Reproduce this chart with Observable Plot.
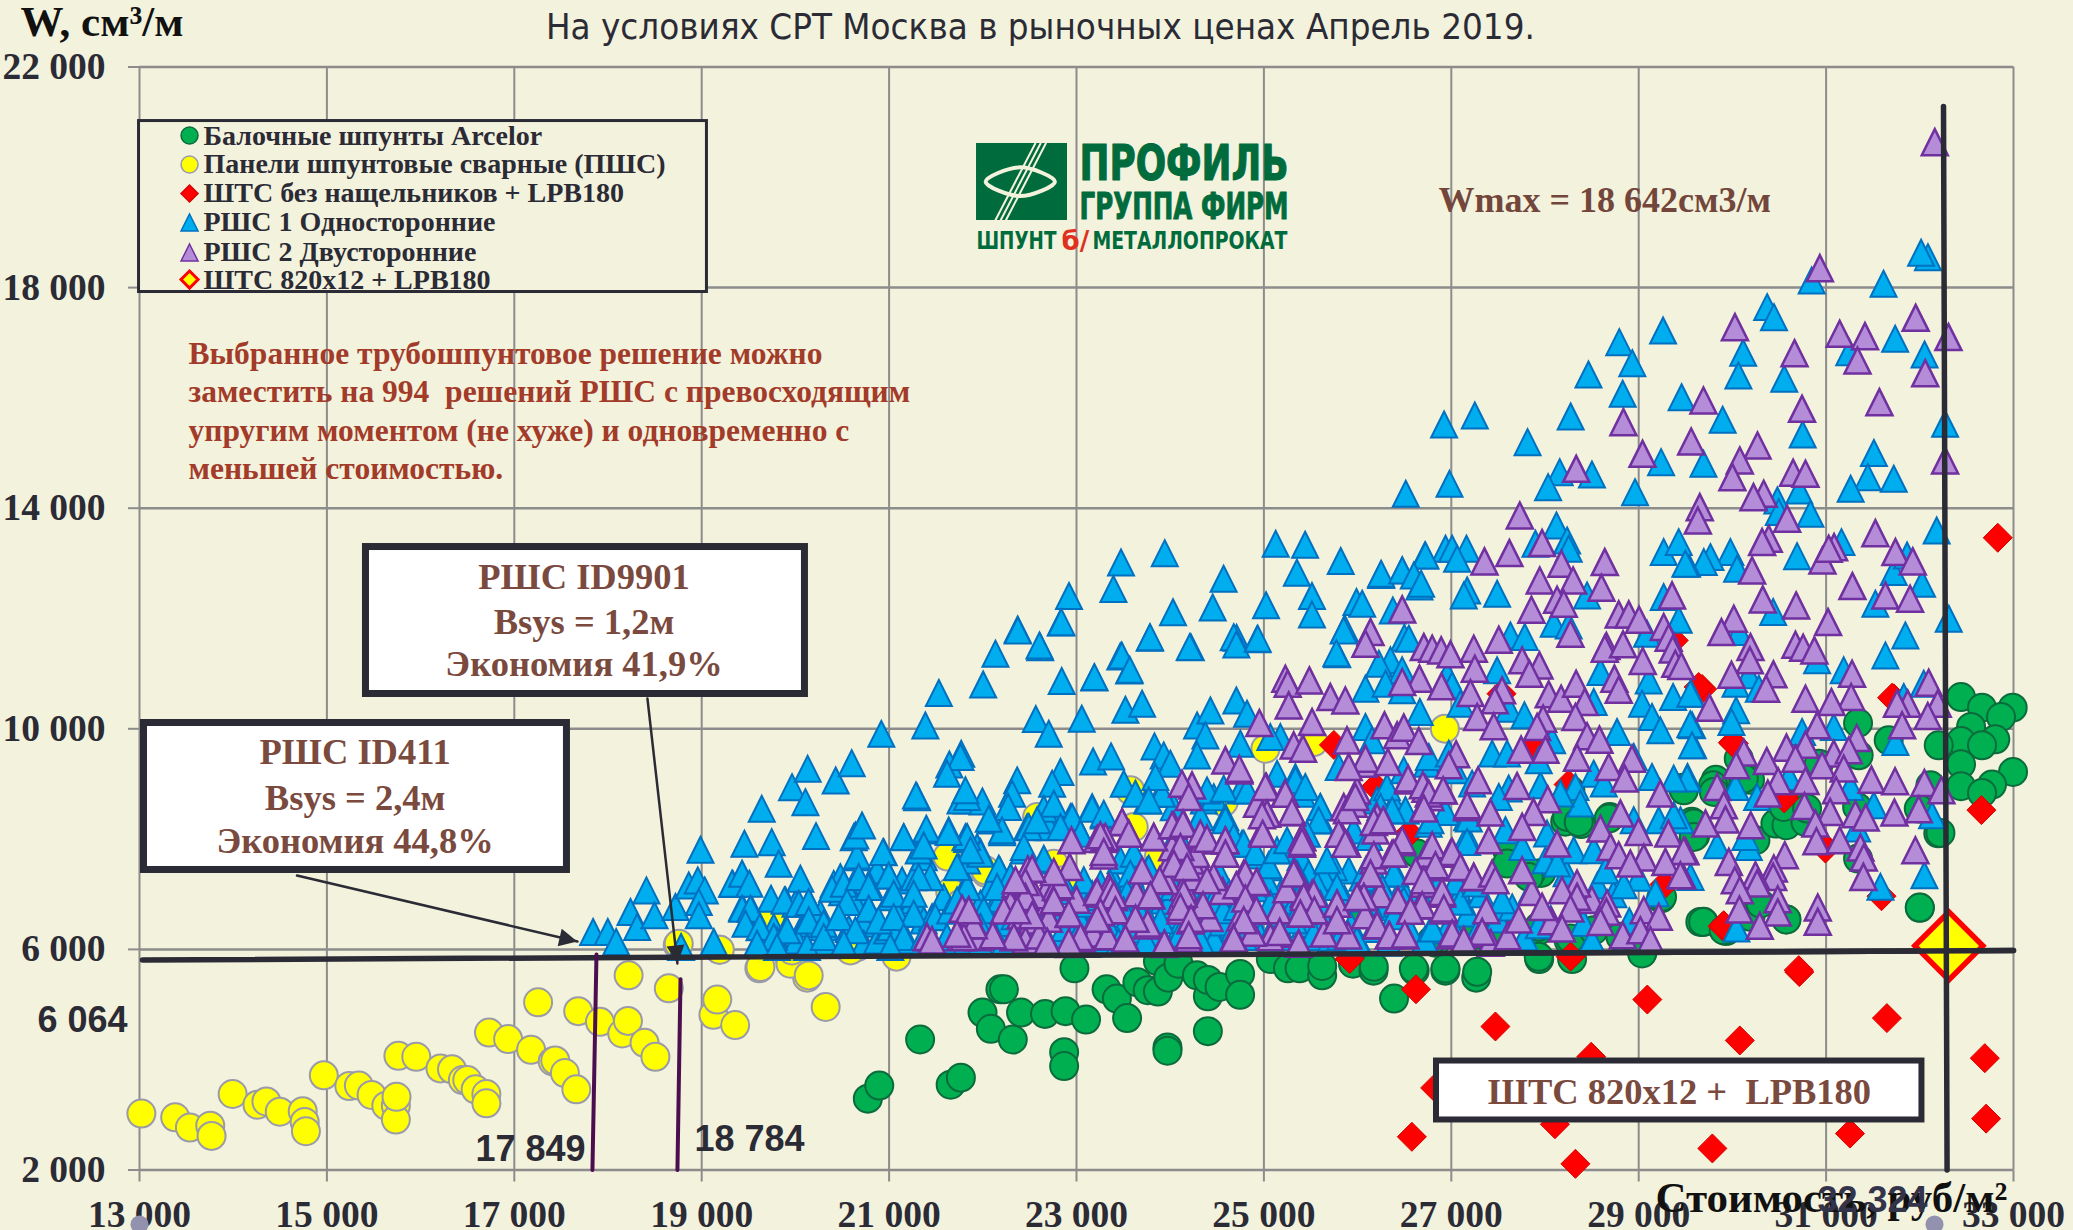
<!DOCTYPE html>
<html lang="ru"><head><meta charset="utf-8">
<script src="https://cdn.jsdelivr.net/npm/d3@7"></script>
<script src="https://cdn.jsdelivr.net/npm/@observablehq/plot@0.6"></script>
<style>html,body{margin:0;padding:0;background:#f3f2dc;overflow:hidden}</style></head><body><div id="chart"></div>
<script>
const xTicks=[13000,15000,17000,19000,21000,23000,25000,27000,29000,31000,33000];
const yTicks=[2000,6000,10000,14000,18000,22000];
const legendNames=["Балочные шпунты Arcelor","Панели шпунтовые сварные (ПШС)","ШТС без нащельников + LPB180","РШС 1 Односторонние","РШС 2 Двусторонние","ШТС 820х12 + LPB180"];
const selected=[[32310,6064]];
const green=[[20773,3294],[20895,3530],[21331,4366],[21657,3547],[21766,3674],[21997,4855],[22086,4560],[22188,5277],[22226,5277],[22320,4366],[22408,4855],[22664,4830],[22883,4880],[22868,4137],[22868,3885],[22978,5657],[23102,4728],[23321,5277],[23431,5108],[23540,4754],[23650,5404],[23760,5260],[23869,5235],[23971,4222],[23971,4163],[23869,5783],[23979,5488],[24088,5741],[24285,5530],[24402,4518],[24402,5150],[24402,5446],[24527,5319],[24746,5556],[24746,5176],[25074,5825],[25257,5657],[25381,5657],[25622,5530],[25622,5699],[25951,5741],[26170,5615],[26389,5108],[26609,5615],[26937,5615],[27266,5488],[27938,5825],[28289,5825],[29041,5952],
[28216,8315],[28384,8273],[28691,8400],[29567,8315],[29603,8062],[29239,6923],[29691,6500],[29932,6332],[30575,6543],[32000,6754],[32197,8104],[27960,7387],[27850,7387],[27595,7809],[27924,6332],[28252,6163],[27449,6205],[27156,6247],[26828,6121],[29823,9075],[30188,9075],[30663,8653],
[29473,8933],[29569,8221],[28680,8372],[28236,8402],[28360,8311],[28271,8885],[27827,7315],[27596,7556],[29249,6953],[29658,6499],[27400,6197],[27169,6197],[27933,6409],[28271,6197],[28520,6348],[28805,6228],[27933,5865],[29036,5926],[26600,5654],[26938,5654],[27276,5593],[26173,5684],[26796,6167],[26067,6650],[26635,7738],
[32440,10576],[32664,10383],[32991,10383],[32867,10214],[32547,10033],[32806,9809],[32440,9779],[32664,9701],[32202,9701],[32440,9356],[32995,9217],[32771,8988],[32440,8958],[32664,8837],[32113,8976],[31341,10105],[31668,9791],[31348,9519],[30922,9368],[30068,9459],[30122,9097],[29794,8976],[29802,8855],[29482,8885],[29588,8281],[29588,8040],[30246,7979],[30459,8281],[30577,8251],[30780,8311],[30548,8583],[30797,8553],[31331,8583],[31989,8553],[32220,8112],[31341,7647],[29688,6499],[29908,6348],[30577,6542],[30193,6590],[30299,6832],[32000,6759]];
const yellow=[[13020,3024],[13381,2956],[13538,2770],[13755,2804],[13769,2618],[13994,3378],[14259,3184],[14354,3243],[14497,3057],[14742,3066],[14763,2872],[14776,2703],[14967,3716],[15239,3522],[15341,3530],[15477,3361],[15634,3167],[15736,3167],[15736,2914],[15743,3327],[15763,4070],[15954,4053],[16212,3842],[16335,3825],[16451,3631],[16498,3631],[16587,3462],[16702,3378],[16702,3209],[16730,4492],[16934,4374],[17179,4180],[17254,5041],[17410,3969],[17437,3986],[17540,3758],[17662,3462],[17682,4880],[17914,4686],[18152,4475],[18213,4703],[18220,5530],[18390,4306],[18506,4053],[18649,5294],[18744,6079],[19125,4813],[19166,5091],[19357,4627],[19187,5994],[19615,5657],[19942,5826],[20126,5488],[20323,4956],[21079,5868],[21623,7683],[22032,7387],
[18755,6103],[19193,5994],[19627,5680],[19947,5741],[20142,5529],[21653,7040],[19733,6586],[20658,6043],[20587,5982],[19965,5980],
[25016,9639],[25531,9759],[22580,8400],[23575,8884],[23611,8219],[24571,8672],[22029,7434],[22758,7555],[22864,7253],[23878,7675],[21762,6830],[26931,10003]];
const red=[[32832,13464],[32657,8526],[31722,10552],[29677,10721],[27536,10636],[25747,9708],[30005,9750],[28252,8990],[26192,8948],[26550,8105],[27865,9708],[30553,8737],[30992,7851],[29275,7176],[31591,6965],[27580,6543],[29896,6417],[25915,5825],[28274,5868],[26623,5277],[29092,5091],[30714,5589],[27471,4602],[30079,4349],[31649,4754],[32694,4028],[32708,2931],[31255,2660],[29786,2391],[28325,2112],[26579,2602],[28493,4053],[28106,2830],[26828,3488],[29374,11603],[29640,10758],[30015,9731],[31704,10564],[30548,8795],[29908,6439],[30993,7828],[30708,5624]];
const blue=[
[32087,18552],[32014,18631],[30846,18129],[31613,18069],[30371,17646],[30444,17464],[29260,17223],[28793,17011],[28932,16630],[30115,16817],[28464,16425],[30064,16407],[30553,16346],[31247,16830],[31737,17072],[32051,16787],[28829,16074],[29458,16013],[28274,15663],[27251,15681],[26923,15518],[27814,15198],[29896,15603],[30750,15337],[32270,15530],[31510,15000],[31722,14533],[31445,14563],[29239,14835],[29691,14805],[28157,14654],[28033,14382],[28501,14611],[26981,14442],[26514,14261],[28961,14291],[31262,14352],[30714,14321],[30480,14140],
[23475,13016],[23942,13185],[22920,12409],[23394,12535],[22372,11801],[22832,11928],[22613,11480],[24570,12721],[25126,13354],[25440,13337],[25820,13042],[25352,12831],[24030,12113],[24454,12198],[23782,11649],[24220,11480],[25023,12240],[24709,11649],[24928,11624],[23467,11312],[23562,11058],[23190,10932],[25783,11354],[25513,12409],[25513,12071],[26251,12789],[26477,12873],[26718,13143],[26660,12578],[25988,12299],[25863,11818],[26499,11649],[21531,10650],[21770,9546],[21643,9353],[21996,8683],[22842,10868],
[32180,13596],[31164,13385],[30690,13131],[30833,13898],[30495,13929],[29979,13204],[29766,13113],[29695,13023],[29517,12992],[30050,12902],[31722,12841],[31864,13143],[32024,12630],[31526,12268],[32309,11996],[30435,12117],[31846,11694],[31633,11331],[30904,11241],[31188,11060],[30068,11754],[30175,10969],[30033,10818],[30282,10727],[29560,10637],[30040,10335],[29990,10123],[29570,10063],[29581,9701],[31829,10576],[32042,10818],[31740,9761],[31082,10033],[30744,9942],[29521,9127],[30033,8946],[30264,8764],[30602,9127],[31260,8946],[31509,8613],[32131,8432],[31331,8191],[29837,7889],[30175,7858],[30139,8040],[29553,7315],[31580,7134],[32049,7345],[30043,6379],[29446,8342],
[28122,13687],[27898,13355],[28236,13415],[28253,13264],[26938,13264],[27009,13264],[27162,13264],[27062,13083],[26724,13143],[26251,12811],[26476,12872],[26600,12781],[26678,12630],[27169,12509],[27133,12419],[27489,12449],[28449,12419],[29267,13204],[29427,13385],[29498,12992],[26049,12268],[26376,12147],[29427,11978],[29267,12388],[28093,11905],[28253,11875],[26547,11633],[27631,11694],[27784,11664],[29089,11724],[28591,11029],[29107,10878],[29036,10456],[29367,10576],[29551,10637],[29142,10214],[29551,10081],[29569,9701],[29231,9972],[28769,9942],[26351,11241],[26227,11180],[26476,11060],[26084,10727],[26298,10818],[26476,10697],[26956,10969],[27009,10788],[27489,11060],[27098,10456],[27613,10365],[27781,10244],[26664,10305],[28520,10486],[26084,10033],[26155,9791],[27951,8976],[28076,9791],[27436,9550],[27595,9550],[27933,9429],[26760,9489],[26973,9550],[27045,9248],[26493,9248],[28520,9187],[28627,9006],[28947,9489],[29142,9127],[28325,8946],[28378,8644],[28165,8825],[27222,9006],[27613,8916],[27507,8764],[26511,8523],[26938,8493],[26244,8583],[26369,8523],[26778,8342],[27187,8372],[27169,7949],[27578,8160],[28022,8100],[27756,7858],[28307,7798],[28520,7798],[28005,7617],[28129,7556],[28645,7436],[28840,7164],[28947,8342],[29214,8342],[29374,8432],[29516,9097],[29374,9097],[26387,7375],[26635,7436],[26262,7103],[26493,6892],[27098,6862],[27542,6892],[26796,6379],[27933,6439],[28396,6892],[27258,7194],
[22374,11783],[22839,11934],[22135,11360],[22605,11511],[22004,10804],[22566,10176],[22704,9910],[23056,10182],[23191,10937],[23483,11330],[23568,11070],[23785,11662],[24208,11481],[24678,11662],[24706,11529],[24934,11632],[25851,11783],[25773,11372],[23522,10345],[23700,10454],[21762,9488],[23177,9409],[23369,9500],[23832,9681],[23931,9518],[24002,9367],[24287,10061],[24429,10333],[24376,9880],[24287,9518],[24706,10514],[24820,10273],[24749,9729],[25176,9850],[25069,9850],[22829,9216],[22740,9004],[22367,9065],[22313,8823],[22270,8582],[22206,8159],[22064,8370],[21833,8763],[21815,8884],[23504,9004],[23629,8823],[22651,8551],[22758,8642],[22491,8219],[22580,8340],[22953,8400],[22829,8219],[23167,8551],[23291,8461],[22438,7857],[21975,7736],[21833,8038],[21869,7796],[22651,7645],[22171,7464],[21833,7132],[22295,7313],[23042,8098],[23469,7615],[23611,7736],[23771,7464],[23575,7374],[23913,8823],[23842,9125],[23771,8702],[24073,8098],[24393,8883],[24571,8914],[24820,8883],[24589,8340],[24322,8400],[24678,8038],[24785,7917],[24909,7766],[25051,7525],[25140,7796],[25336,9065],[25442,8944],[25602,8582],[25585,8340],[25798,9306],[26087,7434],[26122,8038],[25247,7977],[25460,8098],[25673,7615],[25354,7374],[25425,7132],
[22011,6709],[22153,7132],[23078,7253],[23184,6951],[23362,7192],[23540,7011],[23504,6709],[23682,6649],[23896,6528],[24038,7132],[24464,6890],[24571,6709],[24713,6770],[24820,6407],[25069,6830],[25176,6649],[25318,6528],[25531,6286],[25815,6226],[25993,6166],[24785,6226],[24322,6166],[24109,6286],[23736,6166],[23255,6226],[23006,6226],[22651,6286],[22367,6226],[22118,6286],[21869,6226],[21975,6407],[22509,6649],[25602,6830],[25780,7132],[26087,6649],
[17841,6315],[17998,6315],[18087,6133],[18240,6677],[18311,6405],[18410,7070],[18496,6617],[18720,6768],[18780,6043],[18987,7806],[18862,7160],[18958,7251],[19033,7070],[18969,6858],[18969,6617],[19129,6133],[19324,7190],[19431,7372],[19509,7190],[19456,7915],[19747,7945],[19822,7553],[19641,8549],[19964,8942],[20131,9274],[20107,8670],[20430,9063],[20601,9377],[20917,9908],[21387,10059],[20220,8054],[21287,8791],[21618,9184],[19431,6737],[19520,6737],[19467,6466],[19619,6405],[19740,6919],[20053,7281],[19883,6888],[20036,6828],[20142,6858],[19769,6224],[19911,6345],[20142,6526],[20302,6466],[19591,6103],[19804,6043],[20124,6043],[20302,6224],[20391,7100],[20516,7190],[20658,7704],[20640,8066],[20711,8247],[20935,7764],[20676,7311],[20782,7130],[20996,7341],[20551,6858],[20782,6737],[20462,6586],[20640,6345],[20889,6526],[20516,6103],[21156,8036],[21397,8187],[21369,7885],[21636,8127],[21440,7311],[21316,7311],[21049,7009],[21262,7009],[21262,6647],[21049,6586],[21493,6586],[21653,6707],[21156,6224],[21013,6043],[21369,6224],[21618,6224],[21725,7492],[21725,6888]];
const blueLower=[[19332,7188],[19431,7358],[19431,6765],[19538,6705],[19620,6403],[19894,6886],[20000,6826],[20143,6856],[19769,6403],[19894,6342],[20089,6463],[20160,6644],[20303,6403],[20267,6644],[20409,7188],[20480,7309],[20498,7037],[20641,7249],[20658,7672],[20623,8035],[20943,7763],[20872,7430],[20996,7340],[20783,7188],[20676,6947],[20623,6886],[20463,6584],[20783,6735],[20872,6493],[20730,6463],[20570,6372],[20303,6100],[19805,6161],[20018,6161],[19591,6100],[20516,6100],[20730,6100],[20872,6161],[21049,6100],[20978,6342],[21014,6947],[21139,7249],[21263,7309],[21441,7309],[21263,6886],[21263,6644],[21085,6644],[21014,6403],[21370,6523],[21459,6584],[21654,6705],[21814,7128],[21743,7491],[21583,6947],[21832,7611],[21370,7672],[21316,7793],[21156,8035],[21398,8155],[21636,8155],[21832,8004],[21939,7853],[21299,8760],[21832,8699],[21192,6161],[21619,6161],[21832,6161],
[21762,8699],[22082,8337],[22207,8125],[21975,7763],[21815,8035],[21886,7793],[21833,7128],[22182,7430],[22296,7309],[22082,7128],[21975,6826],[22135,6826],[22011,6524],[21869,6584],[21975,6100],[22224,6100],[22509,6100],[22794,6100],[23114,6100],[23291,6161],[23452,6644],[23398,7249],[23558,7249],[23754,7430],[23576,7611],[23167,7007],[23078,7068],[23256,7188],[23185,6644],[23078,6463],[23256,6161],[23469,6282],[23612,6886],[24038,6161],[23790,6161],[23754,6524],[24430,6403],[24430,6765],[23932,6886],[22438,7793],[22651,7611],[22473,8216],[22758,8337],[22705,8216],[22936,8397],[23007,8216],[23167,8579],[23291,8427],[23754,8699],[23896,8820],[24038,8579],[24359,8699],[24465,8760],
[25141,9183],[25336,9123],[25407,8821],[25603,8579],[24749,8881],[24589,8398],[24767,7914],[24909,7703],[25052,7491],[25247,7793],[25390,7672],[25479,7370],[25603,8337],[25959,8156],[25906,7430],[25745,7491],[25639,7310],[25176,7007],[25070,6766],[24643,6886],[24892,6403],[25532,6222],[26012,6131],[25888,6161],[26243,7189],[26403,7370],[26510,8518],[26759,8277],[26386,8639],[26208,8700],[26314,8941],[26741,9365],[27168,8035],[27168,8397],[27097,7007],[26777,6343],[26279,6766],[26421,6826],
[22080,6540],[22230,6480],[22190,6920],[22340,6600],[22420,6380],[22560,6820],[22610,6440],[22680,7010],[22790,6610],[22870,6390],[22900,7060],[22980,6780],[23040,6520],[23130,6830],[23320,6470],[23450,6130],[23490,6960],[23600,6360],[23660,7060],[23720,6700],[23850,6300],[23870,7110],[23990,6620],[24000,6880],[24120,6450],[24180,7240],[24250,6940],[24300,6620],[24410,7090],[24470,6180],[24520,7380],[24560,6490],[24630,7020],[24690,6390],[24750,6950],[24850,6640],[24900,7110],[24960,6240],[25030,7240],[25120,6470],[25220,6220],[25260,7170],[25340,6880],[25440,6460],[25500,6810],[25570,7160],[25650,6500],[25720,6210],[25860,6920],[25930,6430],[26050,7300],[26130,6800],[26170,6370],[26230,7060],[26330,6120],[26390,6600],[26470,7120],[26560,6330],[26650,7040],[26720,6180],
[26860,7170],[26990,6480],[27050,7230],[27180,6650],[27280,6330],[27320,7000],[27500,6540],[27650,6760],[27780,6220],[27850,7050],[28060,6550],[28230,7380],[28410,6480],[28500,6160],[28560,7160],[28730,7000],[28900,6510],[29000,7300],[29180,7020]];
const purple=[
[32160,20637],[30933,18353],[30027,17283],[31956,17452],[31145,17162],[31415,17120],[32306,17102],[30663,16811],[31335,16678],[32058,16449],[30743,15802],[31569,15923],[29691,15953],[28837,15560],[29560,15210],[29041,14986],[30268,15137],[30079,14865],[28333,14714],[30000,14563],[30648,14642],[30780,14624],[32270,14865],[30334,14261],[30225,14200],
[31526,13548],[31740,13204],[31925,13035],[31281,12588],[31633,12419],[31896,12358],[31085,13294],[30961,13053],[31028,13264],[30388,13445],[30317,13385],[30584,13808],[29652,14019],[29631,13778],[30210,12872],[30324,12346],[30680,12237],[30015,11996],[29883,11754],[31021,11935],[30673,11525],[30755,11470],[30875,11422],[30193,11482],[30186,11241],[29990,10981],[30438,10987],[30360,10727],[31277,10999],[31267,10576],[30780,10546],[31057,10486],[29755,10383],[32095,10836],[31871,10456],[31757,10456],[32191,10456],[32085,10232],[31811,10063],[30904,10063],[31327,9834],[30780,9713],[30577,9658],[31082,9550],[31242,9610],[30673,9459],[30957,9338],[31188,9278],[30122,9568],[30040,9338],[30367,9417],[30488,9048],[30780,9054],[30378,8825],[31107,8885],[31484,9078],[31736,9048],[32049,9018],[32230,8885],[29837,8946],[29908,8613],[29926,8354],[29713,8281],[30196,8251],[30769,8601],[31043,8493],[31313,8450],[31423,8390],[31729,8481],[31989,8541],[30886,8281],[30897,7961],[31146,7979],[31953,7798],[31366,7846],[31402,7665],[31398,7315],[30559,7708],[30442,7466],[30435,7315],[29962,7587],[30246,7345],[30264,7194],[30026,7254],[30079,7073],[30484,6910],[30484,6669],[30075,6723],[30292,6427],[30911,6759],[30911,6500],[29499,7780],[29464,7345],
[27731,13868],[27969,13367],[27620,13186],[27354,13035],[28175,12992],[28638,13023],[27944,12690],[28300,12690],[28602,12558],[29356,12419],[28129,12340],[28200,12268],[27855,12159],[26476,12165],[28787,12074],[28894,12074],[29004,11978],[28271,11724],[29267,11845],[29320,11652],[26138,11754],[26084,11543],[26707,11482],[26796,11452],[26892,11422],[26991,11350],[27240,11452],[27507,11615],[28655,11500],[28638,11452],[28833,11531],[29363,11440],[27756,11241],[27941,11150],[29043,11229],[29391,11180],[29455,11138],[27251,11090],[26660,10909],[26476,10848],[26895,10770],[27834,10999],[28741,10909],[28787,10709],[27542,10697],[27204,10649],[27464,10516],[28040,10625],[28172,10546],[28332,10818],[28424,10486],[28325,10214],[27276,10214],[27453,10045],[27980,10184],[27916,10033],[26287,10063],[26422,9882],[26493,10021],[26653,9779],[26084,9459],[26323,9399],[27052,9538],[26973,9338],[27745,9622],[28005,9622],[28449,9864],[28581,9803],[28342,9477],[28680,9308],[28929,9459],[28851,9097],[26539,9097],[26696,8976],[26760,8825],[26913,8885],[27286,9066],[27702,8964],[28029,8722],[27169,8613],[27418,8481],[26707,8553],[26173,8311],[26273,8342],[27877,8493],[27756,8221],[28592,8191],[28805,8462],[28998,8130],[29231,8825],[29317,8100],[29480,7786],[27400,7979],[28129,7919],[26476,7979],[26173,7708],[26387,7738],[26796,7889],[28698,7858],[28787,7708],[29054,7665],[28911,7556],[29285,7587],[29445,7345],[27009,7768],[26831,7526],[27098,7496],[27240,7315],[27436,7375],[27471,7254],[27756,7435],[26707,7254],[26138,7375],[26902,7043],[26689,6801],[26920,6741],[26067,6953],[26564,6699],[28342,7194],[28182,7073],[28342,6953],[28271,6741],[28663,6832],[28655,6681],[28592,6499],[27375,6711],[27329,6318],[27720,6542],[27969,6771],[28182,6379],[28830,6258],[29054,6711],[29214,6590],[29018,6348],[29125,6167],[26209,6439],[26340,6258],[26504,6270],[27009,6288],[27133,6167],
[25229,10907],[25254,10816],[25485,10877],[25265,10424],[25709,10575],[25869,10514],[25514,10122],[24952,10104],[25887,9790],[25318,9699],[25418,9639],[24589,9427],[24738,9276],[25905,9306],[25016,8944],[25229,8823],[24233,8974],[24126,9004],[24198,8763],[25033,8461],[24980,8431],[25300,8491],[24987,8098],[25407,8038],[25407,7947],[25887,8521],[25976,8763],[25798,8098],[25869,7917],[23487,8310],[23558,8098],[23309,8038],[23255,8068],[23291,7766],[23824,8038],[24020,8250],[24137,8280],[24322,8098],[24393,8008],[24589,7977],[24109,7857],[24589,7736],[24038,7555],[24180,7494],[24464,7313],[24393,7253],[22946,7977],[22928,7494],[22829,7162],[22758,7404],[22527,7464],[22455,7223],[22455,6951],[22349,7253],[22758,6890],[23220,7042],[23362,7072],[23398,6981],[23415,6709],[23255,6679],[23220,6558],[23888,7253],[23789,6981],[25318,7374],[24802,7374],[24920,7223],[24706,7162],[24802,6921],[25531,7011],[25425,6951],[25539,6709],[25389,6649],[25780,6830],[25780,6528],[25993,6951],[24351,6800],[24144,7011],[24109,6770],[24223,6558],[24198,6256],[24920,6709],[24785,6528],[24678,6196],[25169,6317],[25371,6105],[23938,6105],[23760,6468],[23629,6558],[23522,6196],[22918,6649],[23042,6226],[22918,6135],[22687,6135],[22527,6619],[22367,6709],[22331,6226],[22107,6256],[21904,6437],[21851,6709],[21798,6226],
[21405,6224],[21458,6163],[21725,6284]];
const purpleLower=[[21405,6221],[21459,6161],[21761,6312],[21850,6705],[21903,6463],[21957,6221],
[22349,7188],[22455,7067],[22455,6886],[22296,6826],[22224,6705],[22402,6614],[22527,6524],[22705,6856],[22705,6554],[22918,6644],[23060,6191],[22687,6131],[22918,6100],[22456,6161],[22331,6221],[22598,6251],[22110,6251],[21904,6433],[21833,6644],[21780,6735],[21815,6524],[21762,6221],[23202,7007],[23345,7128],[23398,6947],[23416,6705],[23256,6675],[23220,6584],[23523,6191],[23630,6554],[23761,6433],[23800,6977],[23896,7249],[23939,6100],[24198,6191],[24216,6524],[24109,6705],[24109,6886],[24145,7128],[24348,6795],[24252,7309],[24056,7551],[23967,7491],[24021,7853],[24145,8276],[24038,8246],[23220,8004],[23291,8004],[23291,7702],[23558,8095],[23487,8306],[23825,8035],[24394,7974],[24323,8035],[24465,7279],[24323,7491],[24216,7611],[22438,7249],[22705,7158],
[24739,9244],[25027,8942],[25034,8458],[24981,8126],[24927,8639],[25222,8821],[25301,8488],[25407,8035],[25407,7914],[24589,7733],[24589,7974],[25326,7400],[24927,7219],[24785,7370],[24714,7128],[24821,6947],[24909,6705],[24749,6584],[24678,6222],[25176,6282],[25070,6222],[25372,6101],[25425,7007],[25514,7007],[25532,6705],[25390,6645],[25781,6826],[25781,6524],[26048,6947],[25888,7914],[25817,8095],[25852,8579],[25959,8639],[25994,8881],[26065,9365],[26208,8398],[26279,8337],[26190,8156],[26172,7612],[26137,7370],[26475,7944],[26368,7733],[26539,9062],[26724,8911],[26777,8760],[26706,8579],[26919,8881],[27168,8579],[26795,7854],[26741,7733],[26830,7491],[26990,7733],[27097,7491],[27239,7310],[26706,7189],[26901,7007],[26919,6705],[26670,6796],[26564,6705],[26201,6433],[26332,6252],[26510,6252],[26990,6252],[27133,6161],[27310,6282],
[22480,7450],[22560,6980],[22780,7130],[23000,6900],[23180,6290],[23330,6240],[23640,7020],[23700,7430],[23960,7240],[24280,7730],[24420,6570],[24560,7060],[24880,6300],[25150,6710],[25240,7090],[25640,6290],[25900,6250],[26080,6620],[26240,7000],[26430,6890],[26620,7420],[27420,6120],[27600,6240],[27860,7040],[28070,6510],[28500,6900]];

const fmt=d=>String(d).replace(/\B(?=(\d{3})+$)/," ");
const pr=a=>a.map(([x,y])=>({x,y}));
const tri={draw(c,s){const r=Math.sqrt(s/Math.PI);c.moveTo(0,-r);c.lineTo(r,r);c.lineTo(-r,r);c.closePath();}};
const dia={draw(c,s){const r=Math.sqrt(s/Math.PI);c.moveTo(0,-r);c.lineTo(r,0);c.lineTo(0,r);c.lineTo(-r,0);c.closePath();}};
const SERIF="Liberation Serif",SANS="Liberation Sans",COND="DejaVu Sans",INK="#2b2b36",BROWN="#7a4a3e",BRICK="#a23b2a",BG="#f3f2dc";
const styles={
 g:{fill:"#00b050",stroke:"#0b6b3c",strokeWidth:2,symbol:"circle"},
 y:{fill:"#ffff00",stroke:"#9a9aa8",strokeWidth:2,symbol:"circle"},
 r:{fill:"#ff0000",stroke:"#d80000",strokeWidth:1,symbol:dia},
 b:{fill:"#00adef",stroke:"#0070c0",strokeWidth:2,symbol:tri},
 p:{fill:"#b48cd8",stroke:"#7030a0",strokeWidth:2.5,symbol:tri},
 s:{fill:"#ffff00",stroke:"#ff0000",strokeWidth:5.5,symbol:dia}};
const T=(s,x,y,o)=>Plot.text([s],{x:()=>x,y:()=>y,text:d=>d,textAnchor:"start",lineAnchor:"middle",fontFamily:SERIF,fontWeight:"bold",fontSize:36.5,...o});
const L=(pts,o)=>Plot.line(pr(pts),{x:"x",y:"y",...o});
const box=(x1,x2,y1,y2,o)=>Plot.rect([0],{x1:()=>x1,x2:()=>x2,y1:()=>y1,y2:()=>y2,fill:"white",stroke:INK,strokeWidth:7,...o});
const head=(x,y,rotate)=>Plot.dot([0],{x:()=>x,y:()=>y,r:9,symbol:tri,rotate,fill:INK});
const legendY=[20757,20232,19706,19180,18636,18146];
const legendStyle=[styles.g,styles.y,styles.r,styles.b,styles.p,styles.s];

const chart=Plot.plot({
 width:2073,height:1230,marginLeft:139,marginRight:60,marginTop:66.5,marginBottom:60.5,
 x:{domain:[13000,33000],range:[139,2013]},y:{domain:[2000,22000],range:[1169.5,66.5]},
 style:{background:BG,overflow:"visible"},
 marks:[
  Plot.ruleX(xTicks,{stroke:"#8c8c8c",strokeWidth:2}),
  Plot.ruleY(yTicks,{stroke:"#8c8c8c",strokeWidth:2.5}),
  Plot.axisX({ticks:xTicks,tickSize:12,tickPadding:18,tickFormat:fmt,label:null,fontSize:37.5,fontFamily:SERIF,fontWeight:"bold",color:INK,stroke:"#8c8c8c",strokeWidth:2}),
  Plot.axisY({ticks:yTicks,tickSize:11,tickPadding:23,tickFormat:fmt,label:null,fontSize:37.5,fontFamily:SERIF,fontWeight:"bold",color:INK,stroke:"#8c8c8c",strokeWidth:2}),
  Plot.dot(pr(green),{x:"x",y:"y",r:14,...styles.g}),
  Plot.dot(pr(yellow),{x:"x",y:"y",r:14,...styles.y}),
  Plot.dot(pr(red),{x:"x",y:"y",r:14.5,...styles.r}),
  Plot.dot(pr(blueLower),{x:"x",y:"y",r:13,...styles.b}),
  Plot.dot(pr(blue),{x:"x",y:"y",r:13,...styles.b}),
  Plot.dot(pr(purpleLower),{x:"x",y:"y",r:13,...styles.p}),
  Plot.dot(pr(purple),{x:"x",y:"y",r:13,...styles.p}),
  L([[13032,5808],[33000,5981]],{stroke:INK,strokeWidth:5.5}),
  L([[17877,5907],[17834,2000]],{stroke:"#4b0f4f",strokeWidth:4}),
  L([[18774,5461],[18741,2000]],{stroke:"#4b0f4f",strokeWidth:4}),
  Plot.dot(pr(selected),{x:"x",y:"y",r:34,...styles.s}),
  L([[32253,21283],[32291,2000]],{stroke:INK,strokeWidth:5.5}),
  L([[27000,5929],[33000,5981]],{stroke:INK,strokeWidth:5.5}),
  L([[14681,7340],[17674,6143]],{stroke:INK,strokeWidth:2.5}),
  L([[18421,10549],[18741,5744]],{stroke:INK,strokeWidth:2.5}),
  head(17578,6180,103),head(18731,5907,173.5),
  box(15417,20102,10631,13296),
  box(13048,17562,7440,10105),
  box(26842,32023,2907,3976,{strokeWidth:6}),
  box(12995,19056,17920,21020,{fill:BG,strokeWidth:3}),
  ...legendStyle.map((st,i)=>Plot.dot([0],{x:()=>13534,y:()=>legendY[i],r:8.5,...st,strokeWidth:i==5?3:1.5})),
  Plot.text(legendNames,{x:()=>13683,y:(d,i)=>legendY[i],text:d=>d,textAnchor:"start",lineAnchor:"middle",fontFamily:SERIF,fontWeight:"bold",fontSize:28,fill:INK}),
  T("На условиях СРТ Москва в рыночных ценах Апрель 2019.",22615,22716,{textAnchor:"middle",fontFamily:COND,fontWeight:"normal",fontSize:36,fill:INK}),
  T("W, см³/м",11730,22806,{fontSize:43,fill:"#111"}),
  T("Wmax = 18 642см3/м",26863,19579,{fontSize:36,fill:"#73463b"}),
  T("Выбранное трубошпунтовое решение можно",13523,16805,{fontSize:31.5,fill:BRICK}),
  T("заместить на 994  решений РШС с превосходящим",13523,16116,{fontSize:31.5,fill:BRICK}),
  T("упругим моментом (не хуже) и одновременно с",13523,15408,{fontSize:31.5,fill:BRICK}),
  T("меньшей стоимостью.",13523,14720,{fontSize:31.5,fill:BRICK}),
  T("РШС ID9901",17744,12743,{textAnchor:"middle",fill:BROWN}),
  T("Bsys = 1,2м",17744,11927,{textAnchor:"middle",fill:BROWN}),
  T("Экономия 41,9%",17744,11166,{textAnchor:"middle",fill:BROWN}),
  T("РШС ID411",15301,9570,{textAnchor:"middle",fill:BROWN}),
  T("Bsys = 2,4м",15301,8736,{textAnchor:"middle",fill:BROWN}),
  T("Экономия 44,8%",15301,7956,{textAnchor:"middle",fill:BROWN}),
  T("ШТС 820х12 +  LPB180",29435,3405,{textAnchor:"middle",fill:BROWN}),
  T("6 064",11911,4711,{fontFamily:SANS,fontSize:36,fill:INK}),
  T("17 849",16586,2372,{fontFamily:SANS,fontSize:36,fill:INK}),
  T("18 784",18923,2553,{fontFamily:SANS,fontSize:36,fill:INK}),
  T("Стоимость, руб/м²",29179,1480,{fontSize:43,fill:"#111"}),
  T("32 324",30908,1447,{fontFamily:SANS,fontSize:36,fill:"#33334a"}),
  Plot.dot([[13000,1012],[32157,1012]],{x:"0",y:"1",r:9,fill:"#9292ae"}),
  Plot.rect([0],{x1:()=>21933,x2:()=>22904,y1:()=>19217,y2:()=>20613,fill:"#006b3c"}),
  L([[22616,20613],[22189,19217]],{stroke:"#f3f2dc",strokeWidth:2}),
  L([[22560,20613],[22133,19217]],{stroke:"#f3f2dc",strokeWidth:2}),
  L([[22672,20613],[22245,19217]],{stroke:"#f3f2dc",strokeWidth:2}),
  Plot.line(pr([[22030,19920],[22400,20180],[22770,19920],[22400,19660]]),{x:"x",y:"y",curve:"cardinal-closed",stroke:"#f3f2dc",strokeWidth:4}),
  T("ПРОФИЛЬ",23032,20241,{fontFamily:COND,fontSize:50,fill:"#006b3c",stroke:"#006b3c",strokeWidth:1.2}),
  T("ГРУППА ФИРМ",23032,19470,{fontFamily:COND,fontSize:38,fill:"#006b3c",stroke:"#006b3c",strokeWidth:1}),
  T("ШПУНТ",21932,18836,{fontFamily:COND,fontSize:24,fill:"#006b3c"}),
  T("б/",22840,18836,{fontFamily:COND,fontSize:26,fill:"#e03020"}),
  T("МЕТАЛЛОПРОКАТ",23170,18836,{fontFamily:COND,fontSize:24,fill:"#006b3c"})
 ]});
const fit={"На условиях СРТ Москва в рыночных ценах Апрель 2019.":989,"ПРОФИЛЬ":209,"ГРУППА ФИРМ":209,"ШПУНТ":80,"МЕТАЛЛОПРОКАТ":195};
chart.querySelectorAll("text").forEach(t=>{const w=fit[t.textContent];if(w){t.setAttribute("textLength",w);t.setAttribute("lengthAdjust","spacingAndGlyphs");}});
document.getElementById("chart").append(chart);
</script></body></html>
